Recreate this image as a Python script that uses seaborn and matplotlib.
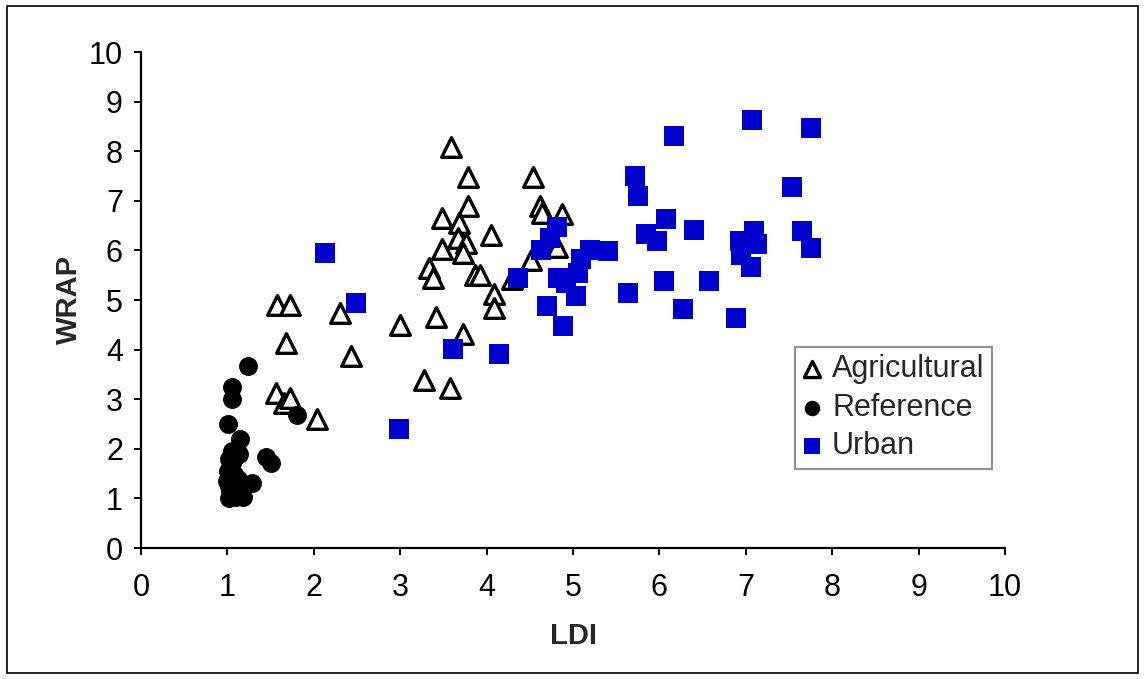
import matplotlib
matplotlib.use("Agg")
import matplotlib.pyplot as plt
import matplotlib.patches as mpatches
import seaborn as sns
import pandas as pd

# ---- data ----
agri_ldi = [3.59, 3.79, 4.54, 3.79, 4.62, 4.64, 4.87, 3.48, 3.68, 4.05, 3.67, 3.76,
            3.48, 3.73, 4.81, 4.51, 3.33, 3.38, 3.87, 3.92, 4.29, 4.08, 4.08, 1.57,
            1.72, 2.30, 3.00, 3.42, 1.68, 3.73, 2.43, 3.27, 3.58, 1.56, 1.65, 1.72, 2.04]
agri_wrap = [8.09, 7.47, 7.47, 6.89, 6.89, 6.76, 6.73, 6.66, 6.55, 6.31, 6.26, 6.14,
             6.02, 5.95, 6.07, 5.81, 5.64, 5.44, 5.50, 5.50, 5.42, 5.12, 4.83, 4.90,
             4.90, 4.73, 4.50, 4.65, 4.14, 4.31, 3.87, 3.39, 3.22, 3.12, 2.92, 3.02, 2.61]

ref_ldi = [1.24, 1.05, 1.05, 1.01, 1.15, 1.80, 1.45, 1.51, 1.28, 1.18,
           1.02, 1.05, 1.10, 1.03, 1.02, 1.06, 1.02, 1.08, 1.03, 1.05,
           1.02, 1.10, 1.05, 1.12, 1.08, 1.14, 1.00, 1.01, 1.07, 1.15]
ref_wrap = [3.67, 3.25, 3.00, 2.51, 2.20, 2.68, 1.84, 1.72, 1.32, 1.03,
            1.00, 1.05, 1.02, 1.15, 1.25, 1.35, 1.45, 1.50, 1.60, 1.72,
            1.80, 1.85, 1.95, 1.40, 1.20, 1.90, 1.35, 1.55, 1.10, 1.05]

urban_ldi = [2.13, 2.49, 2.99, 3.61, 4.14, 4.36, 4.63, 4.73, 4.82, 4.83, 4.70, 4.88,
             4.92, 5.03, 5.06, 5.09, 5.20, 5.41, 5.64, 5.72, 5.75, 5.84, 5.97, 6.08,
             6.05, 6.17, 6.27, 6.40, 6.57, 6.89, 6.93, 6.95, 7.06, 7.07, 7.09, 7.13,
             7.53, 7.65, 7.75, 7.75]
urban_wrap = [5.95, 4.93, 2.40, 4.01, 3.91, 5.44, 6.00, 6.24, 6.47, 5.44, 4.87, 4.47,
              5.34, 5.09, 5.54, 5.83, 6.00, 5.99, 5.14, 7.50, 7.10, 6.34, 6.18, 6.64,
              5.38, 8.31, 4.82, 6.41, 5.38, 4.63, 6.18, 5.91, 5.67, 8.63, 6.40, 6.12,
              7.27, 6.40, 6.05, 8.47]

ticks = list(range(0, 11))
tick_labels = [str(t) for t in ticks]

agri = pd.DataFrame({"LDI": agri_ldi, "WRAP": agri_wrap})
ref = pd.DataFrame({"LDI": ref_ldi, "WRAP": ref_wrap})
urban = pd.DataFrame({"LDI": urban_ldi, "WRAP": urban_wrap})

sns.set_theme(style="white")
plt.rcParams["font.family"] = ["Liberation Sans", "DejaVu Sans"]

fig = plt.figure(figsize=(11.45, 6.79), dpi=100)
ax = fig.add_axes([141/1145, 1 - 548/679, (1005-141)/1145, (548-52)/679])

sns.scatterplot(data=agri, x="LDI", y="WRAP", ax=ax, marker="^", s=200,
                facecolor="white", edgecolor="black", linewidth=2.4,
                label="Agricultural", zorder=3)
sns.scatterplot(data=ref, x="LDI", y="WRAP", ax=ax, marker="o", s=185,
                color="black", edgecolor="black", linewidth=0,
                label="Reference", zorder=3)
sns.scatterplot(data=urban, x="LDI", y="WRAP", ax=ax, marker="s", s=200,
                color="#0000CC", edgecolor="#0000CC", linewidth=0,
                label="Urban", zorder=4)

ax.set_xlim(0, 10)
ax.set_ylim(0, 10)
ax.set_xticks(ticks)
ax.set_xticklabels(tick_labels)
ax.set_yticks(ticks)
ax.set_yticklabels(tick_labels)

for side in ["top", "right"]:
    ax.spines[side].set_visible(False)
for side in ["left", "bottom"]:
    ax.spines[side].set_color("black")
    ax.spines[side].set_linewidth(1.6)

ax.tick_params(axis="both", which="major", direction="out", length=5, width=1.4,
               color="black", labelsize=22, labelcolor="black")
ax.tick_params(axis="x", pad=13, bottom=True)
ax.tick_params(axis="y", pad=8, left=True)

ax.set_xlabel("LDI", fontsize=21, fontweight="bold", labelpad=14)
ax.set_ylabel("WRAP", fontsize=21, fontweight="bold", labelpad=4)

leg = ax.legend(loc="upper right", bbox_to_anchor=(0.985, 0.406), frameon=True,
                fancybox=False, fontsize=22, markerscale=0.82, handlelength=0.6,
                handletextpad=0.35, borderpad=0.25, labelspacing=0.28,
                borderaxespad=0)
leg.get_frame().set_edgecolor("#777777")
leg.get_frame().set_linewidth(1.5)

fig.patches.append(mpatches.Rectangle((7/1145, 6/679), (1138-7)/1145, (673-6)/679,
                                      transform=fig.transFigure, fill=False,
                                      edgecolor="black", linewidth=1.2))

fig.savefig("out.png", dpi=100, facecolor="white")
